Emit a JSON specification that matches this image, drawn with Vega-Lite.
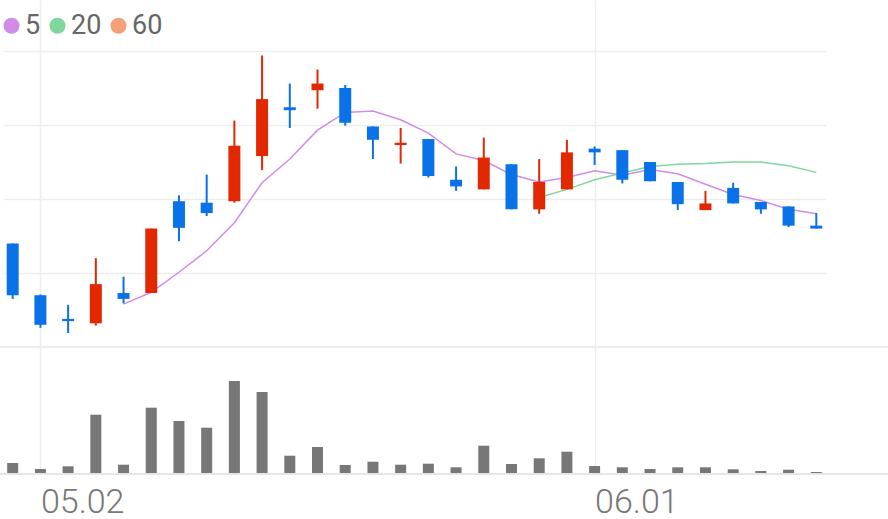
{
  "$schema": "https://vega.github.io/schema/vega-lite/v6.json",
  "width": 888,
  "height": 474,
  "autosize": {"type": "none"},
  "padding": {"left": 0, "top": 0, "right": 0, "bottom": 45},
  "background": "white",
  "config": {"view": {"stroke": null}, "font": "Roboto"},
  "datasets": {
    "k": [
      {"d": "04.28", "o": 4140, "h": 4140, "l": 4065, "c": 4070, "vol": 11000},
      {"d": "05.02", "o": 4070, "h": 4071, "l": 4026, "c": 4030, "vol": 5000},
      {"d": "05.03", "o": 4038, "h": 4057, "l": 4019, "c": 4035, "vol": 7700},
      {"d": "05.04", "o": 4032, "h": 4120, "l": 4029, "c": 4085, "vol": 59300},
      {"d": "05.08", "o": 4073, "h": 4095, "l": 4059, "c": 4065, "vol": 9300},
      {"d": "05.09", "o": 4073, "h": 4160, "l": 4073, "c": 4160, "vol": 66300},
      {"d": "05.10", "o": 4197, "h": 4205, "l": 4143, "c": 4161, "vol": 53000},
      {"d": "05.11", "o": 4195, "h": 4233, "l": 4177, "c": 4181, "vol": 46300},
      {"d": "05.12", "o": 4197, "h": 4306, "l": 4195, "c": 4272, "vol": 93000},
      {"d": "05.15", "o": 4258, "h": 4394, "l": 4239, "c": 4335, "vol": 82000},
      {"d": "05.16", "o": 4324, "h": 4356, "l": 4296, "c": 4320, "vol": 18300},
      {"d": "05.17", "o": 4347, "h": 4375, "l": 4322, "c": 4356, "vol": 27000},
      {"d": "05.18", "o": 4350, "h": 4354, "l": 4299, "c": 4303, "vol": 9000},
      {"d": "05.19", "o": 4298, "h": 4298, "l": 4254, "c": 4280, "vol": 12300},
      {"d": "05.22", "o": 4273, "h": 4296, "l": 4248, "c": 4276, "vol": 9300},
      {"d": "05.23", "o": 4281, "h": 4281, "l": 4229, "c": 4231, "vol": 10300},
      {"d": "05.24", "o": 4226, "h": 4244, "l": 4211, "c": 4217, "vol": 6700},
      {"d": "05.25", "o": 4213, "h": 4283, "l": 4213, "c": 4256, "vol": 28300},
      {"d": "05.26", "o": 4247, "h": 4247, "l": 4186, "c": 4186, "vol": 10000},
      {"d": "05.30", "o": 4186, "h": 4254, "l": 4180, "c": 4223, "vol": 15700},
      {"d": "05.31", "o": 4213, "h": 4280, "l": 4213, "c": 4263, "vol": 22300},
      {"d": "06.01", "o": 4268, "h": 4271, "l": 4246, "c": 4263, "vol": 8000},
      {"d": "06.02", "o": 4266, "h": 4266, "l": 4221, "c": 4226, "vol": 6700},
      {"d": "06.05", "o": 4250, "h": 4250, "l": 4224, "c": 4224, "vol": 5000},
      {"d": "06.07", "o": 4223, "h": 4223, "l": 4185, "c": 4193, "vol": 6700},
      {"d": "06.08", "o": 4185, "h": 4211, "l": 4185, "c": 4194, "vol": 6700},
      {"d": "06.09", "o": 4215, "h": 4222, "l": 4194, "c": 4194, "vol": 4700},
      {"d": "06.12", "o": 4196, "h": 4196, "l": 4180, "c": 4186, "vol": 3000},
      {"d": "06.13", "o": 4190, "h": 4190, "l": 4162, "c": 4164, "vol": 4300},
      {"d": "06.14", "o": 4164, "h": 4181, "l": 4160, "c": 4160, "vol": 2000}
    ],
    "ma": [
      {"d": "05.08", "ma": "5", "v": 4058},
      {"d": "05.09", "ma": "5", "v": 4074},
      {"d": "05.10", "ma": "5", "v": 4101},
      {"d": "05.11", "ma": "5", "v": 4130},
      {"d": "05.12", "ma": "5", "v": 4168},
      {"d": "05.15", "ma": "5", "v": 4222},
      {"d": "05.16", "ma": "5", "v": 4254},
      {"d": "05.17", "ma": "5", "v": 4293},
      {"d": "05.18", "ma": "5", "v": 4317},
      {"d": "05.19", "ma": "5", "v": 4319},
      {"d": "05.22", "ma": "5", "v": 4307},
      {"d": "05.23", "ma": "5", "v": 4289},
      {"d": "05.24", "ma": "5", "v": 4261},
      {"d": "05.25", "ma": "5", "v": 4252},
      {"d": "05.26", "ma": "5", "v": 4233},
      {"d": "05.30", "ma": "5", "v": 4223},
      {"d": "05.31", "ma": "5", "v": 4229},
      {"d": "06.01", "ma": "5", "v": 4238},
      {"d": "06.02", "ma": "5", "v": 4232},
      {"d": "06.05", "ma": "5", "v": 4240},
      {"d": "06.07", "ma": "5", "v": 4234},
      {"d": "06.08", "ma": "5", "v": 4220},
      {"d": "06.09", "ma": "5", "v": 4206},
      {"d": "06.12", "ma": "5", "v": 4198},
      {"d": "06.13", "ma": "5", "v": 4186},
      {"d": "06.14", "ma": "5", "v": 4180},
      {"d": "05.30", "ma": "20", "v": 4202},
      {"d": "05.31", "ma": "20", "v": 4213},
      {"d": "06.01", "ma": "20", "v": 4226},
      {"d": "06.02", "ma": "20", "v": 4235},
      {"d": "06.05", "ma": "20", "v": 4244},
      {"d": "06.07", "ma": "20", "v": 4247},
      {"d": "06.08", "ma": "20", "v": 4248},
      {"d": "06.09", "ma": "20", "v": 4250},
      {"d": "06.12", "ma": "20", "v": 4250},
      {"d": "06.13", "ma": "20", "v": 4245},
      {"d": "06.14", "ma": "20", "v": 4236}
    ]
  },
  "layer": [
    {
      "layer": [
        {
          "data": {"name": "ma"},
          "mark": {"type": "rule", "color": "#ececec", "strokeWidth": 1.5},
          "encoding": {
            "y": {"datum": 4000, "type": "quantitative", "scale": {"domain": [3828.4, 4468.9], "nice": false, "zero": false},
              "axis": {"values": [4100, 4200, 4300, 4400], "title": null, "labels": false, "ticks": false, "domain": false, "grid": true, "gridColor": "#ededed", "gridWidth": 1.5}}
          }
        },
        {
          "data": {"name": "ma"},
          "mark": {"type": "line", "strokeWidth": 1.5},
          "encoding": {
            "x": {"field": "d", "type": "ordinal", "scale": {"type": "point", "range": [3, 826], "padding": 0.35},
              "axis": {"values": ["05.02", "06.01"], "title": null, "domain": false, "ticks": false, "grid": true, "gridColor": "#ededed", "gridWidth": 1.5, "labelFont": "Roboto", "labelFontSize": 34, "labelFontWeight": 300, "labelColor": "#777777", "labelAngle": 0, "labelAlign": "left", "labelBaseline": "alphabetic", "labelPadding": 38}},
            "y": {"field": "v", "type": "quantitative"},
            "color": {"field": "ma", "type": "nominal",
              "scale": {"domain": ["5", "20", "60"], "range": ["#d08ce6", "#80d69b", "#f5a078"]},
              "legend": {"title": null, "orient": "none", "legendX": -2, "legendY": 12, "direction": "horizontal", "symbolType": "circle", "symbolSize": 256, "symbolStrokeWidth": 0, "labelFont": "Roboto", "labelFontSize": 27, "labelColor": "#666666", "labelOffset": 0, "columnPadding": 3, "padding": 0,
                "encode": {"symbols": {"update": {"fill": {"scale": "color", "field": "value"}, "strokeWidth": {"value": 0}, "opacity": {"value": 1}}}}}}
          }
        },
        {
          "data": {"name": "k"},
          "mark": {"type": "rule", "strokeWidth": 2},
          "encoding": {
            "x": {"field": "d", "type": "ordinal", "scale": {"type": "point", "range": [3, 826], "padding": 0.35},
              "axis": {"values": ["05.02", "06.01"], "title": null, "domain": false, "ticks": false, "grid": true, "gridColor": "#ededed", "gridWidth": 1.5, "labelFont": "Roboto", "labelFontSize": 34, "labelFontWeight": 300, "labelColor": "#777777", "labelAngle": 0, "labelAlign": "left", "labelBaseline": "alphabetic", "labelPadding": 38}},
            "y": {"field": "l", "type": "quantitative"},
            "y2": {"field": "h"},
            "color": {"condition": {"test": "datum.c >= datum.o", "value": "#e22800"}, "value": "#0a72e8"}
          }
        },
        {
          "data": {"name": "k"},
          "mark": {"type": "bar", "width": 12},
          "encoding": {
            "x": {"field": "d", "type": "ordinal", "scale": {"type": "point", "range": [3, 826], "padding": 0.35},
              "axis": {"values": ["05.02", "06.01"], "title": null, "domain": false, "ticks": false, "grid": true, "gridColor": "#ededed", "gridWidth": 1.5, "labelFont": "Roboto", "labelFontSize": 34, "labelFontWeight": 300, "labelColor": "#777777", "labelAngle": 0, "labelAlign": "left", "labelBaseline": "alphabetic", "labelPadding": 38}},
            "y": {"field": "o", "type": "quantitative"},
            "y2": {"field": "c"},
            "color": {"condition": {"test": "datum.c >= datum.o", "value": "#e22800"}, "value": "#0a72e8"}
          }
        }
      ]
    },
    {
      "layer": [
        {
          "data": {"name": "k"},
          "mark": {"type": "bar", "width": 11, "color": "#777777"},
          "encoding": {
            "x": {"field": "d", "type": "ordinal", "scale": {"type": "point", "range": [3, 826], "padding": 0.35},
              "axis": {"values": ["05.02", "06.01"], "title": null, "domain": false, "ticks": false, "grid": true, "gridColor": "#ededed", "gridWidth": 1.5, "labelFont": "Roboto", "labelFontSize": 34, "labelFontWeight": 300, "labelColor": "#777777", "labelAngle": 0, "labelAlign": "left", "labelBaseline": "alphabetic", "labelPadding": 38}},
            "y": {"field": "vol", "type": "quantitative", "stack": null, "scale": {"domain": [0, 474000], "nice": false}, "axis": null}
          }
        },
        {
          "data": {"name": "k"},
          "mark": {"type": "rule", "color": "#e6e6e6", "strokeWidth": 1.5},
          "encoding": {
            "y": {"datum": 0, "type": "quantitative"}
          }
        }
      ]
    }
  ],
  "resolve": {"scale": {"y": "independent"}}
}
